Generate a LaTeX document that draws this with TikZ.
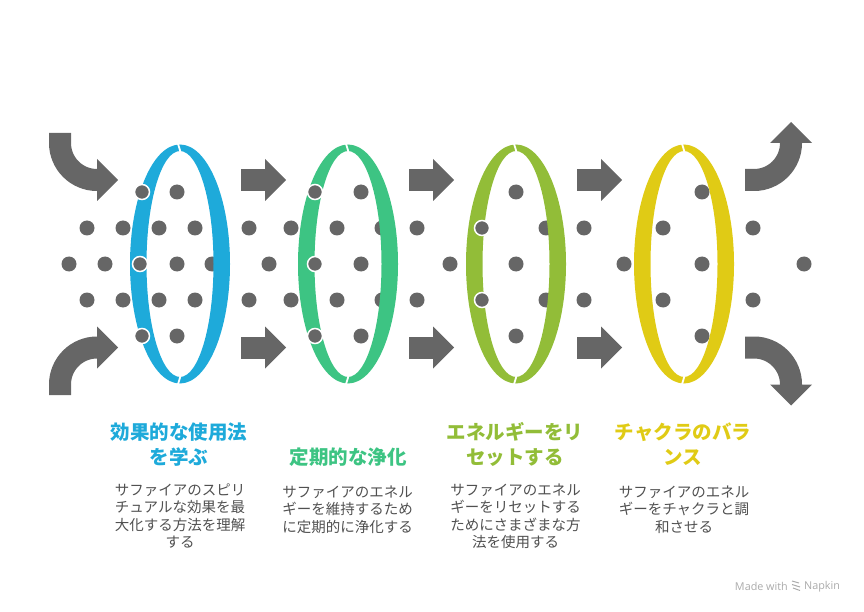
\documentclass[tikz,border=0pt]{standalone}
\usepackage{fontspec}
\newfontfamily\cjk{Noto Sans CJK JP}
\newfontfamily\wmfont{Open Sans}
\definecolor{cblue}{RGB}{30,170,218}
\definecolor{cgreen}{RGB}{61,196,131}
\definecolor{clime}{RGB}{146,189,56}
\definecolor{cyellow}{RGB}{224,203,21}
\definecolor{dotgrey}{RGB}{102,102,102}
\definecolor{descgrey}{RGB}{80,80,80}
\definecolor{wmgrey}{RGB}{170,170,170}
\tikzset{
  pdot/.style={fill=dotgrey},
  odot/.style={fill=dotgrey, draw=white, line width=1.5pt},
  shaft/.style={draw=dotgrey, line width=22pt},
  head/.style={fill=dotgrey},
  ringgap/.style={draw=white, line width=1.8pt},
  titletext/.style={font=\cjk\bfseries\fontsize{19.5}{25}\selectfont, align=center, inner sep=0pt},
  desctext/.style={font=\cjk\fontsize{14.5}{17.5}\selectfont, text=descgrey, align=center, inner sep=0pt},
}
\begin{document}
\begin{tikzpicture}[x=1pt,y=-1pt]
\useasboundingbox (0,0) rectangle (864,612);
% plain dots (behind rings)
\foreach \x in {177,361,516,702} {
  \fill[pdot] (\x,192) circle[radius=7.5];
  \fill[pdot] (\x,336) circle[radius=7.5];
}
\foreach \x in {87,123,159,195,249,291,337,382,417,546,584,663,753} {
  \fill[pdot] (\x,228) circle[radius=7.5];
  \fill[pdot] (\x,300) circle[radius=7.5];
}
\foreach \x in {69,105,177,212,269,361,450,516,624,702,804} {
  \fill[pdot] (\x,264) circle[radius=7.5];
}
% rings
\foreach \cx/\col in {180/cblue,348/cgreen,516/clime,684/cyellow} {
  \fill[\col, even odd rule] (\cx,264) ellipse[x radius=50, y radius=119.5]
                             (\cx,264) ellipse[x radius=33.5, y radius=113];
  \draw[ringgap] (\cx-2.5,142) -- (\cx+0.5,152);
  \draw[ringgap] (\cx-2.5,386) -- (\cx+0.5,376);
}
% dots in front of rings
\foreach \p in {(142,192),(140,264),(142,336),(315,192),(315,264),(315,336),(482,228),(482,300)} {
  \filldraw[odot] \p circle[radius=7.5];
}
% straight arrows
\foreach \x in {241,409,577} {
  \foreach \y in {180,347.5} {
    \draw[shaft] (\x,\y) -- (\x+24.5,\y);
    \fill[head] (\x+24,\y-21) -- (\x+45,\y) -- (\x+24,\y+21) -- cycle;
  }
}
% curved arrows, left
\draw[shaft] (60,133) -- (60,143) arc[start angle=180, end angle=90, radius=37] -- (97.5,180);
\fill[head] (97,159) -- (118,180) -- (97,201) -- cycle;
\draw[shaft] (60,395) -- (60,384.5) arc[start angle=180, end angle=270, radius=37] -- (97.5,347.5);
\fill[head] (97,326.5) -- (118,347.5) -- (97,368.5) -- cycle;
% curved arrows, right
\draw[shaft] (745,180) -- (754,180) arc[start angle=90, end angle=0, radius=37] -- (791,142.5);
\fill[head] (770,143) -- (791,122) -- (812,143) -- cycle;
\draw[shaft] (745,347.5) -- (754,347.5) arc[start angle=270, end angle=360, radius=37] -- (791,385);
\fill[head] (770,384.5) -- (791,405.5) -- (812,384.5) -- cycle;
% titles
\node[titletext, text=cblue] (t1) at (179,444.5) {効果的な使用法\\を学ぶ};
\node[titletext, text=cgreen] (t2) at (348,457) {定期的な浄化};
\node[titletext, text=clime] (t3) at (515,444.5) {エネルギーをリ\\セットする};
\node[titletext, text=cyellow] (t4) at (683,444.5) {チャクラのバラ\\ンス};
% descriptions
\node[desctext] (d1) at (180,516.25) {サファイアのスピリ\\チュアルな効果を最\\大化する方法を理解\\する};
\node[desctext] (d2) at (347.5,509.5) {サファイアのエネル\\ギーを維持するため\\に定期的に浄化する};
\node[desctext] (d3) at (515.5,516.25) {サファイアのエネル\\ギーをリセットする\\ためにさまざまな方\\法を使用する};
\node[desctext] (d4) at (684,509.5) {サファイアのエネル\\ギーをチャクラと調\\和させる};
% watermark
\node[font=\wmfont\fontsize{10.8}{12}\selectfont, text=wmgrey, anchor=east, inner sep=0pt] (wm1) at (788,586.5) {Made with};
\draw[wmgrey, line width=1pt] (792,581) -- (799,583) (792,584.5) -- (800,587) (793,588) -- (800,590.5);
\node[font=\wmfont\fontsize{10.8}{12}\selectfont, text=wmgrey, anchor=west, inner sep=0pt] (wm2) at (804,586.5) {Napkin};
\end{tikzpicture}
\end{document}
